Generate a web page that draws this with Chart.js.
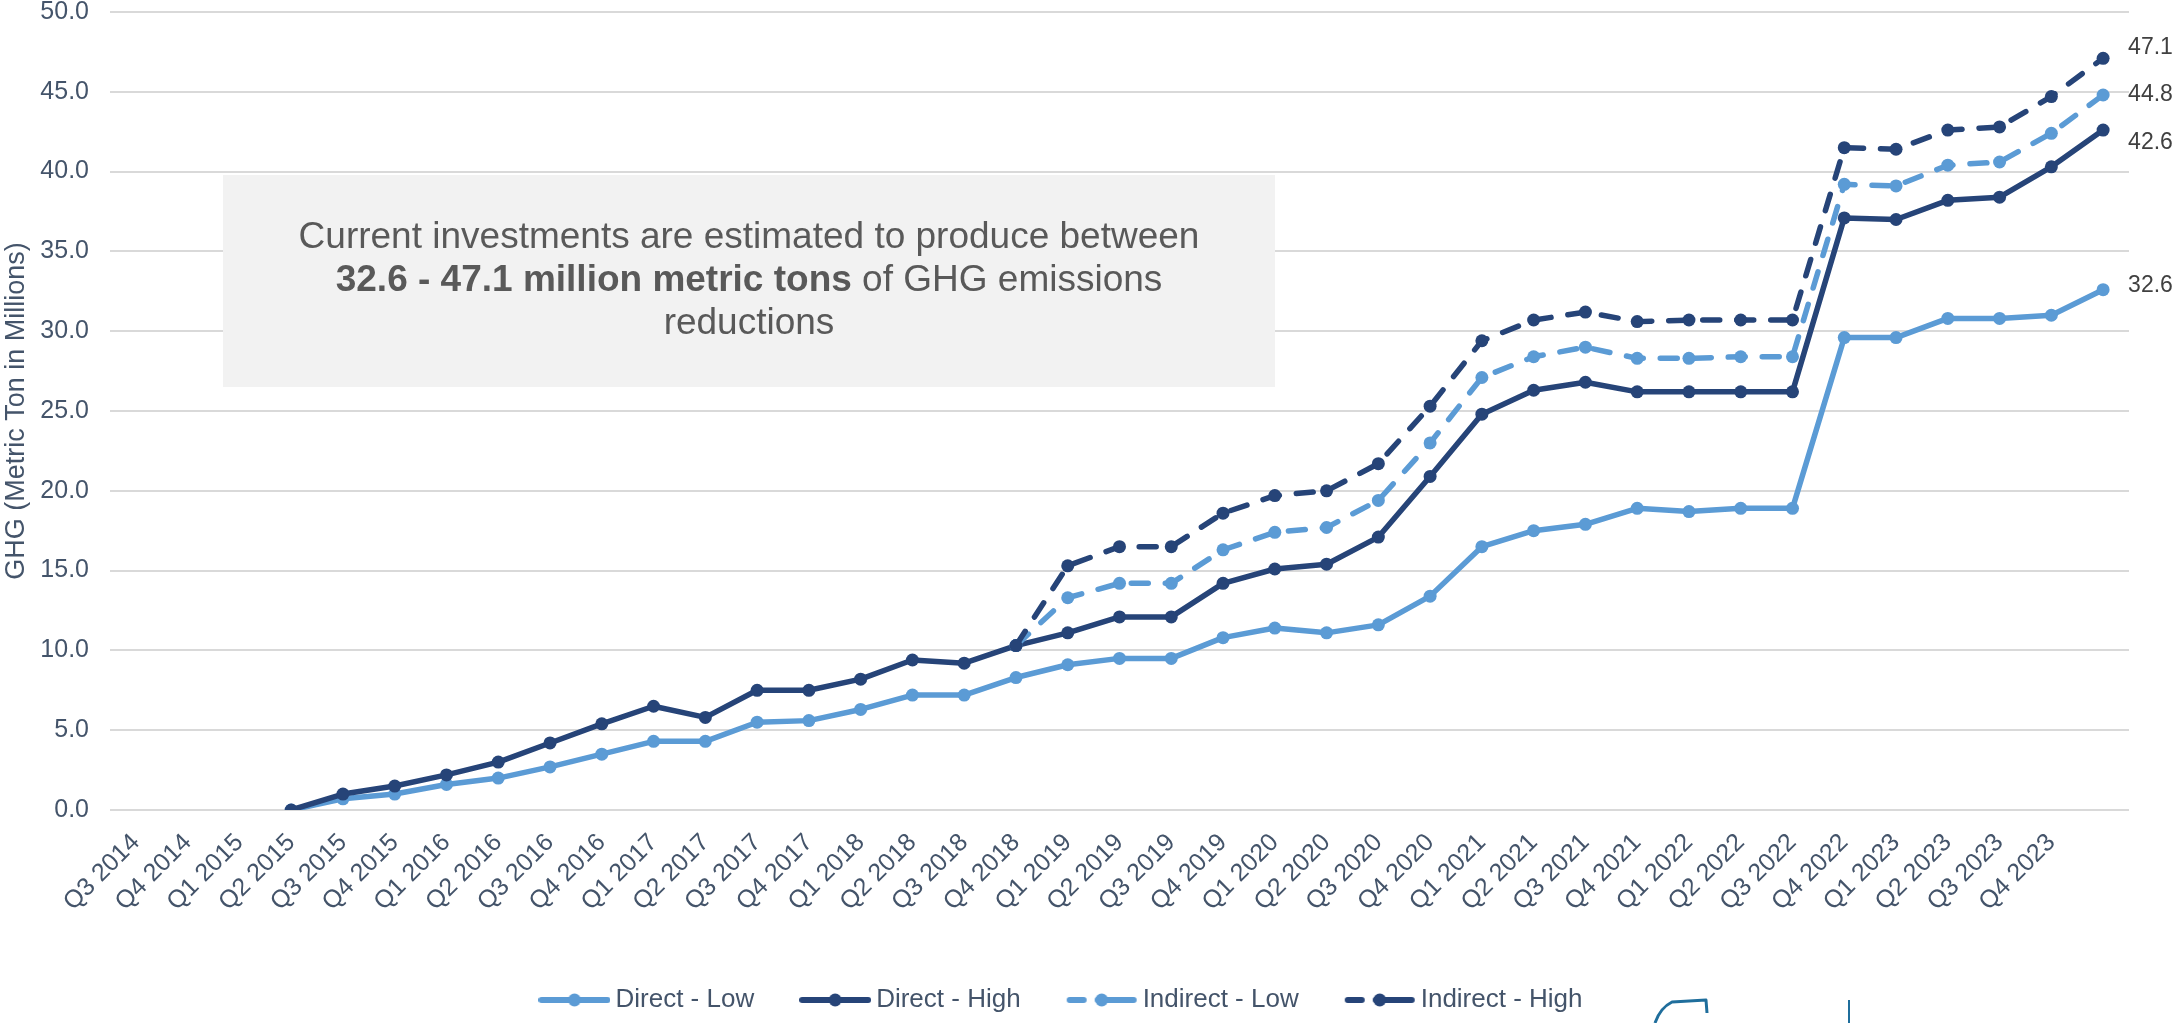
<!DOCTYPE html>
<html>
<head>
<meta charset="utf-8">
<title>GHG emissions reductions</title>
<script src="https://cdn.jsdelivr.net/npm/chart.js@4.4.1/dist/chart.umd.min.js"></script>
<style>
  html, body { margin: 0; padding: 0; background: #fff; }
  #wrap { position: relative; width: 2176px; height: 1023px; }
</style>
</head>
<body>
<div id="wrap"><canvas id="ghgChart"></canvas></div>
<script>
const quarters = [
    'Q3 2014', 'Q4 2014', 'Q1 2015', 'Q2 2015', 'Q3 2015', 'Q4 2015', 'Q1 2016', 'Q2 2016',
    'Q3 2016', 'Q4 2016', 'Q1 2017', 'Q2 2017', 'Q3 2017', 'Q4 2017', 'Q1 2018', 'Q2 2018',
    'Q3 2018', 'Q4 2018', 'Q1 2019', 'Q2 2019', 'Q3 2019', 'Q4 2019', 'Q1 2020', 'Q2 2020',
    'Q3 2020', 'Q4 2020', 'Q1 2021', 'Q2 2021', 'Q3 2021', 'Q4 2021', 'Q1 2022', 'Q2 2022',
    'Q3 2022', 'Q4 2022', 'Q1 2023', 'Q2 2023', 'Q3 2023', 'Q4 2023', ''
];

// million metric tons, cumulative
const directLow = [
    null, null, null, 0.0, 0.7, 1.0, 1.6, 2.0, 2.7, 3.5, 4.3, 4.3, 5.5, 5.6, 6.3, 7.2, 7.2,
    8.3, 9.1, 9.5, 9.5, 10.8, 11.4, 11.1, 11.6, 13.4, 16.5, 17.5, 17.9, 18.9, 18.7, 18.9,
    18.9, 29.6, 29.6, 30.8, 30.8, 31.0, 32.6
];
const directHigh = [
    null, null, null, 0.0, 1.0, 1.5, 2.2, 3.0, 4.2, 5.4, 6.5, 5.8, 7.5, 7.5, 8.2, 9.4, 9.2,
    10.3, 11.1, 12.1, 12.1, 14.2, 15.1, 15.4, 17.1, 20.9, 24.8, 26.3, 26.8, 26.2, 26.2, 26.2,
    26.2, 37.1, 37.0, 38.2, 38.4, 40.3, 42.6
];
const indirectLow = [
    null, null, null, null, null, null, null, null, null, null, null, null, null, null, null, null, null,
    10.3, 13.3, 14.2, 14.2, 16.3, 17.4, 17.7, 19.4, 23.0, 27.1, 28.4, 29.0, 28.3, 28.3, 28.4,
    28.4, 39.2, 39.1, 40.4, 40.6, 42.4, 44.8
];
const indirectHigh = [
    null, null, null, null, null, null, null, null, null, null, null, null, null, null, null, null, null,
    10.3, 15.3, 16.5, 16.5, 18.6, 19.7, 20.0, 21.7, 25.3, 29.4, 30.7, 31.2, 30.6, 30.7, 30.7,
    30.7, 41.5, 41.4, 42.6, 42.8, 44.7, 47.1
];

const FONT = "'Liberation Sans', Arial, sans-serif";
const LIGHT = '#5B9BD5';
const DARK = '#264478';
const AXIS_TEXT = '#44546A';

// small line + marker swatch used as the legend symbol
function legendSwatch(color, dashed) {
    const c = document.createElement('canvas');
    c.width = 72;
    c.height = 16;
    const g = c.getContext('2d');
    g.strokeStyle = color;
    g.fillStyle = color;
    g.lineWidth = 6;
    g.lineCap = 'round';
    g.beginPath();
    if (dashed) {
        g.moveTo(4, 8); g.lineTo(18, 8);
        g.moveTo(32, 8); g.lineTo(68, 8);
    } else {
        g.moveTo(3, 8); g.lineTo(69, 8);
    }
    g.stroke();
    g.beginPath();
    g.arc(36, 8, 6.5, 0, Math.PI * 2);
    g.fill();
    return c;
}

function lineSeries(label, data, color, dashed, order, labelShift) {
    return {
        label,
        data,
        borderColor: color,
        backgroundColor: color,
        borderWidth: 5.5,
        borderDash: dashed ? [17, 17] : [],
        borderCapStyle: dashed ? 'round' : 'butt',
        borderJoinStyle: 'round',
        pointRadius: 6.5,
        pointBackgroundColor: color,
        pointBorderWidth: 0,
        tension: 0,
        order,
        labelShift,
        swatch: legendSwatch(color, dashed),
    };
}

// value labels to the right of each series' last point
const endLabels = {
    id: 'endLabels',
    afterDatasetsDraw(chart) {
        const ctx = chart.ctx;
        ctx.save();
        ctx.font = `23px ${FONT}`;
        ctx.fillStyle = '#404040';
        ctx.textAlign = 'left';
        ctx.textBaseline = 'middle';
        chart.data.datasets.forEach((ds, i) => {
            const last = ds.data.length - 1;
            const pt = chart.getDatasetMeta(i).data[last];
            ctx.fillText(ds.data[last].toFixed(1), pt.x + 25, pt.y + ds.labelShift);
        });
        ctx.restore();
    }
};

// grey call-out box with the summary sentence
const calloutBox = {
    id: 'calloutBox',
    beforeDatasetsDraw(chart) {
        const ctx = chart.ctx;
        const box = { x: 223, y: 175, w: 1052, h: 212 };
        const cx = box.x + box.w / 2;
        ctx.save();
        ctx.fillStyle = '#F2F2F2';
        ctx.fillRect(box.x, box.y, box.w, box.h);

        ctx.fillStyle = '#595959';
        ctx.textBaseline = 'middle';
        ctx.textAlign = 'center';
        ctx.font = `37px ${FONT}`;
        ctx.fillText('Current investments are estimated to produce between', cx, 238);
        ctx.fillText('reductions', cx, 324);

        const boldPart = '32.6 - 47.1 million metric tons';
        const restPart = ' of GHG emissions';
        ctx.font = `bold 37px ${FONT}`;
        const wb = ctx.measureText(boldPart).width;
        ctx.font = `37px ${FONT}`;
        const wr = ctx.measureText(restPart).width;
        const x0 = cx - (wb + wr) / 2;
        ctx.textAlign = 'left';
        ctx.font = `bold 37px ${FONT}`;
        ctx.fillText(boldPart, x0, 281);
        ctx.font = `37px ${FONT}`;
        ctx.fillText(restPart, x0 + wb, 281);
        ctx.restore();
    }
};

// clipped corner of the footer logo
const footerMark = {
    id: 'footerMark',
    afterDraw(chart) {
        const ctx = chart.ctx;
        ctx.save();
        ctx.strokeStyle = '#1F6E9C';
        ctx.lineWidth = 3;
        ctx.lineJoin = 'round';
        ctx.beginPath();
        ctx.moveTo(1655, 1023);
        ctx.quadraticCurveTo(1660, 1008, 1672, 1002);
        ctx.lineTo(1706, 1000);
        ctx.lineTo(1707, 1013);
        ctx.stroke();
        ctx.lineWidth = 2;
        ctx.beginPath();
        ctx.moveTo(1849, 1000);
        ctx.lineTo(1849, 1023);
        ctx.stroke();
        ctx.restore();
    }
};

function drawChart() {
    const datasets = [
        lineSeries('Direct - Low', directLow, LIGHT, false, 3, -4),
        lineSeries('Direct - High', directHigh, DARK, false, 2, 13),
        lineSeries('Indirect - Low', indirectLow, LIGHT, true, 1, 0),
        lineSeries('Indirect - High', indirectHigh, DARK, true, 0, -11),
    ];

    return new Chart(document.getElementById('ghgChart').getContext('2d'), {
        type: 'line',
        data: { labels: quarters, datasets },
        options: {
            responsive: true,
            maintainAspectRatio: false,
            animation: false,
            devicePixelRatio: 1,
            layout: { padding: { left: 0, right: 47, top: 0, bottom: 0 } },
            plugins: {
                tooltip: { enabled: false },
                legend: {
                    position: 'bottom',
                    labels: {
                        usePointStyle: true,
                        pointStyleWidth: 56,
                        padding: 53,
                        color: AXIS_TEXT,
                        font: { family: FONT, size: 26 },
                        generateLabels: chart => chart.data.datasets.map((ds, i) => ({
                            text: ds.label,
                            pointStyle: ds.swatch,
                            fontColor: AXIS_TEXT,
                            fillStyle: ds.borderColor,
                            strokeStyle: ds.borderColor,
                            lineWidth: 0,
                            hidden: false,
                            datasetIndex: i,
                        })),
                    },
                },
            },
            scales: {
                x: {
                    offset: true,
                    grid: { display: false, drawTicks: false },
                    border: { display: false },
                    ticks: {
                        autoSkip: false,
                        minRotation: 45,
                        maxRotation: 45,
                        padding: 18,
                        color: AXIS_TEXT,
                        font: { family: FONT, size: 25 },
                    },
                    afterFit: scale => { scale.height = 124; },
                },
                y: {
                    min: 0,
                    max: 50,
                    grid: { color: '#D9D9D9', lineWidth: 2, drawTicks: false },
                    border: { display: false },
                    ticks: {
                        stepSize: 5,
                        padding: 21,
                        color: AXIS_TEXT,
                        font: { family: FONT, size: 25, lineHeight: 1 },
                        callback: v => v.toFixed(1),
                    },
                    title: {
                        display: true,
                        text: 'GHG (Metric Ton in Millions)',
                        color: AXIS_TEXT,
                        font: { family: FONT, size: 27 },
                        padding: { top: 0, bottom: 0 },
                    },
                    afterFit: scale => {
                        scale.width = 110;
                        // only half a label of headroom above the 50.0 line
                        scale.paddingTop = 12;
                    },
                },
            },
        },
        plugins: [calloutBox, endLabels, footerMark],
    });
}

document.addEventListener('DOMContentLoaded', drawChart);
</script>
</body>
</html>
